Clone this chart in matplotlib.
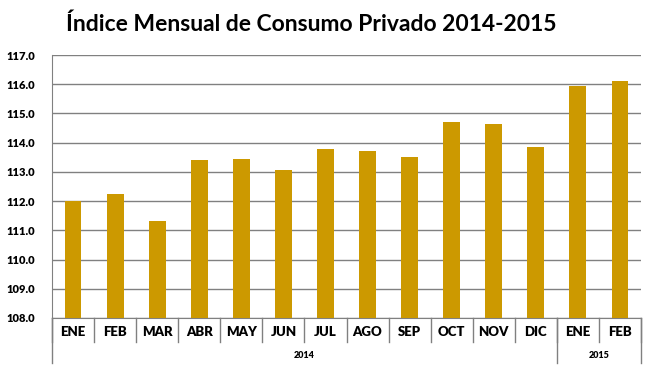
import matplotlib
matplotlib.use("Agg")
import matplotlib.pyplot as plt
import matplotlib.transforms as mtransforms

# data
months = ["ENE", "FEB", "MAR", "ABR", "MAY", "JUN", "JUL", "AGO", "SEP", "OCT", "NOV", "DIC", "ENE", "FEB"]
values = [112.00, 112.25, 111.33, 113.41, 113.45, 113.07, 113.79, 113.72, 113.51, 114.71, 114.64, 113.86, 115.94, 116.11]
years = ["2014", "2015"]
year_counts = [12, 2]
yticks = [108.0, 109.0, 110.0, 111.0, 112.0, 113.0, 114.0, 115.0, 116.0, 117.0]

plt.rcParams["font.family"] = ["Lato", "DejaVu Sans"]

fig = plt.figure(figsize=(6.52, 3.68), dpi=100)
ax = fig.add_axes([52 / 652, 1 - 318 / 368, 589 / 652, 263 / 368])

x = list(range(len(months)))
ax.bar(x, values, width=0.4, bottom=0, color="#CC9900", zorder=3)

ax.set_ylim(108, 117)
ax.set_xlim(-0.5, len(months) - 0.5)
ax.set_yticks(yticks)
ax.set_yticklabels(["%.1f" % t for t in yticks], fontsize=8, fontweight="heavy")
ax.yaxis.grid(True, color="#808080", linewidth=1)
ax.set_axisbelow(True)
ax.tick_params(axis="y", length=0, pad=12)
ax.tick_params(axis="x", length=0, labelbottom=False)
for s in ["top", "right"]:
    ax.spines[s].set_visible(False)
ax.spines["left"].set_color("#808080")
ax.spines["bottom"].set_color("#808080")

trans = mtransforms.blended_transform_factory(ax.transData, ax.transAxes)
h = 263.0
# month labels and separators
for i, m in enumerate(months):
    ax.text(i, -14 / h, m, transform=trans, ha="center", va="center",
            fontsize=9.5, fontweight="heavy")
for i in range(len(months) + 1):
    ax.plot([i - 0.5, i - 0.5], [0, -24 / h], transform=trans, color="#808080",
            linewidth=1, clip_on=False)

# year groups
start = 0
bounds = [-0.5]
for yr, n in zip(years, year_counts):
    center = start + (n - 1) / 2.0
    ax.text(center, -38 / h, yr, transform=trans, ha="center", va="center",
            fontsize=6.5, fontweight="heavy")
    start += n
    bounds.append(start - 0.5)
for b in bounds:
    ax.plot([b, b], [0, -45 / h], transform=trans, color="#808080",
            linewidth=1, clip_on=False)

fig.text(311 / 652, 1 - 24 / 368, "Índice Mensual de Consumo Privado 2014-2015",
         ha="center", va="center", fontsize=16.5, fontweight="bold")

fig.savefig("out.png", dpi=100)
